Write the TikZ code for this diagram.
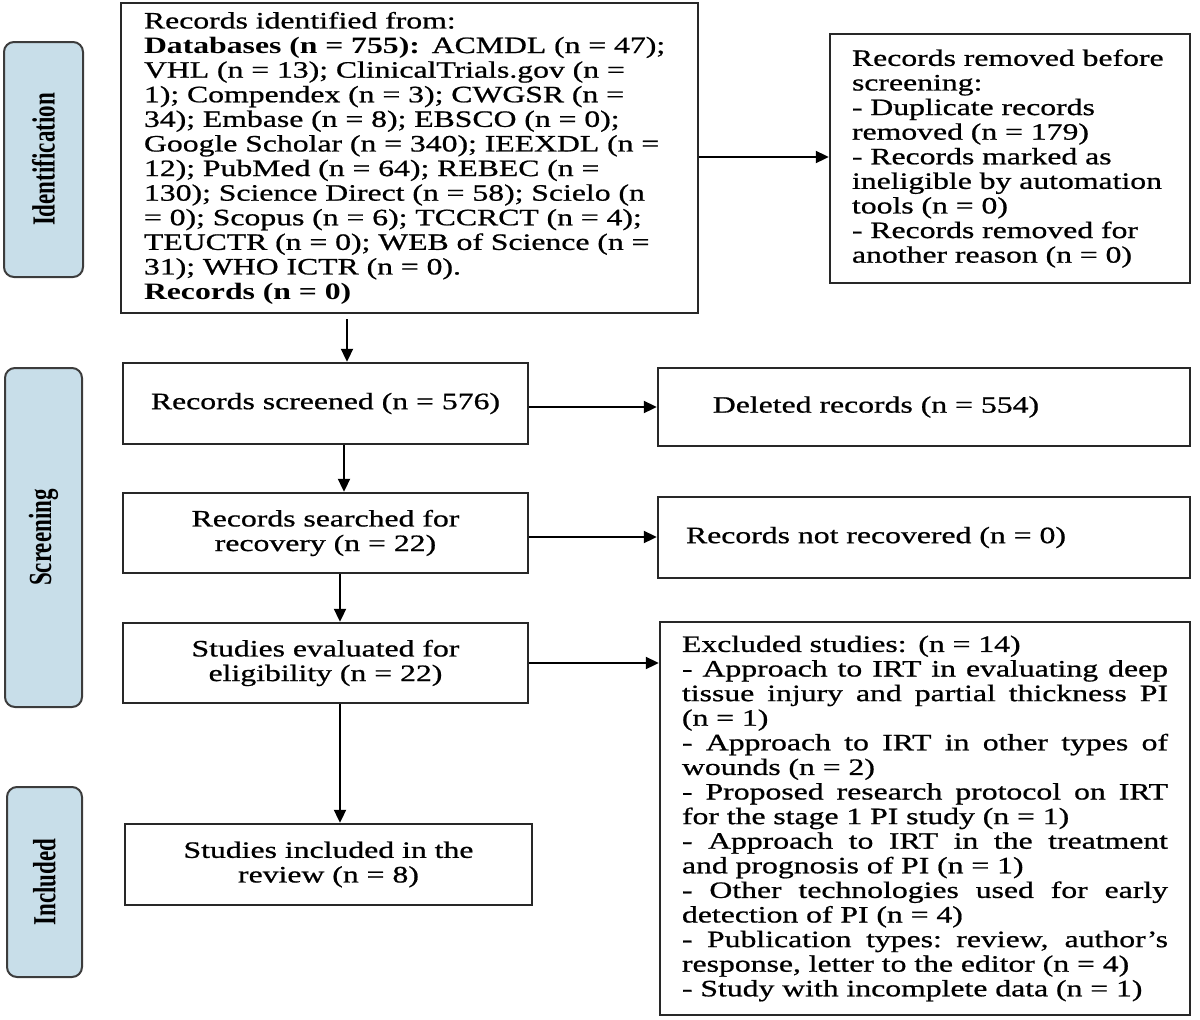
\documentclass[tikz,border=0pt]{standalone}
\usepackage{fontspec}
\setmainfont{Liberation Serif}[FakeStretch=1.35, UprightFeatures={FakeBold=0.8}]
\newfontfamily\sidefont{Liberation Serif}
\usetikzlibrary{arrows.meta,calc}
\definecolor{boxc}{RGB}{40,40,40}
\definecolor{sidef}{RGB}{200,222,233}
\definecolor{sideb}{RGB}{60,60,60}
\newcommand\mainsize{\fontsize{23.5}{24.6}\selectfont}
\newcommand\sidetext[1]{\rotatebox{90}{\scalebox{1}[1.4]{\sidefont\bfseries\fontsize{23}{23}\selectfont #1}}}
\newcommand\jline[1]{\makebox[486pt][s]{\spaceskip=\fontdimen2\font plus 1fil\relax\xspaceskip=\spaceskip #1}}
\tikzset{
  box/.style={draw=boxc, line width=2.4pt, inner sep=0pt, font=\mainsize, align=center},
  side/.style={draw=sideb, fill=sidef, line width=2pt, rounded corners=10pt, inner sep=0pt},
  arr/.style={draw=black, line width=2pt, -{Triangle[length=13pt,width=12pt]}},
}
\begin{document}
\begin{tikzpicture}[x=1pt,y=-1pt]
\useasboundingbox (0,0) rectangle (1200,1020);
% side labels
\node[side, minimum width=79pt, minimum height=235pt] (sid) at (43.5,159.5) {\sidetext{Identification}};
\node[side, minimum width=77pt, minimum height=339pt] (sscr) at (43.5,537.5) {\sidetext{Screening}};
\node[side, minimum width=75pt, minimum height=190pt] (sinc) at (44.5,882) {\sidetext{Included}};
% main boxes
\node[box, minimum width=577pt, minimum height=310pt, text width=531pt, inner xsep=23pt, align=left] (id) at (409.5,158) {%
\mbox{Records identified from:}\\
\mbox{\textbf{Databases (n = 755):} ACMDL (n = 47);}\\
\mbox{VHL (n = 13); ClinicalTrials.gov (n =}\\
\mbox{1); Compendex (n = 3); CWGSR (n =}\\
\mbox{34); Embase (n = 8); EBSCO (n = 0);}\\
\mbox{Google Scholar (n = 340); IEEXDL (n =}\\
\mbox{12); PubMed (n = 64); REBEC (n =}\\
\mbox{130); Science Direct (n = 58); Scielo (n}\\
\mbox{= 0); Scopus (n = 6); TCCRCT (n = 4);}\\
\mbox{TEUCTR (n = 0); WEB of Science (n =}\\
\mbox{31); WHO ICTR (n = 0).}\\
\mbox{\textbf{Records (n = 0)}}};
\node[box, minimum width=360pt, minimum height=249pt, text width=316pt, inner xsep=22pt, align=left] (rem) at (1010,158.5) {%
\mbox{Records removed before}\\
\mbox{screening:}\\
\mbox{- Duplicate records}\\
\mbox{removed (n = 179)}\\
\mbox{- Records marked as}\\
\mbox{ineligible by automation}\\
\mbox{tools (n = 0)}\\
\mbox{- Records removed for}\\
\mbox{another reason (n = 0)}};
\node[box, minimum width=405pt, minimum height=81pt] (scr) at (325.5,403.5) {Records screened (n = 576)};
\node[box, minimum width=532pt, minimum height=78pt] (del) at (924,407) {\hspace*{-96pt}Deleted records (n = 554)};
\node[box, minimum width=405pt, minimum height=80pt] (sea) at (325.5,533) {Records searched for\\recovery (n = 22)};
\node[box, minimum width=532pt, minimum height=81pt] (nrec) at (924,537.5) {\hspace*{-96pt}Records not recovered (n = 0)};
\node[box, minimum width=405pt, minimum height=80pt] (ev) at (325.5,663) {Studies evaluated for\\eligibility (n = 22)};
\node[box, minimum width=530pt, minimum height=393pt, text width=486pt, inner xsep=22pt, align=left] (exc) at (925,818.5) {%
\mbox{Excluded studies: (n = 14)}\\
\jline{- Approach to IRT in evaluating deep}\\
\jline{tissue injury and partial thickness PI}\\
\mbox{(n = 1)}\\
\jline{- Approach to IRT in other types of}\\
\mbox{wounds (n = 2)}\\
\jline{- Proposed research protocol on IRT}\\
\mbox{for the stage 1 PI study (n = 1)}\\
\jline{- Approach to IRT in the treatment}\\
\mbox{and prognosis of PI (n = 1)}\\
\jline{- Other technologies used for early}\\
\mbox{detection of PI (n = 4)}\\
\jline{- Publication types: review, author’s}\\
\mbox{response, letter to the editor (n = 4)}\\
\mbox{- Study with incomplete data (n = 1)}};
\node[box, minimum width=407pt, minimum height=81pt] (inc) at (328.5,864.5) {Studies included in the\\review (n = 8)};
% vertical arrows
\draw[arr] (id.south -| 347,0) ++(0,5) -- (scr.north -| 347,0);
\draw[arr] (scr.south -| 344,0) -- (sea.north -| 344,0);
\draw[arr] (sea.south -| 340,0) -- (ev.north -| 340,0);
\draw[arr] (ev.south -| 340,0) -- (inc.north -| 340,0);
% horizontal arrows
\draw[arr] (id.east |- 0,157) -- (rem.west |- 0,157);
\draw[arr] (scr.east |- 0,407) -- (del.west |- 0,407);
\draw[arr] (sea.east |- 0,537) -- (nrec.west |- 0,537);
\draw[arr] (ev.east |- 0,663) -- (exc.west |- 0,663);
\end{tikzpicture}
\end{document}
